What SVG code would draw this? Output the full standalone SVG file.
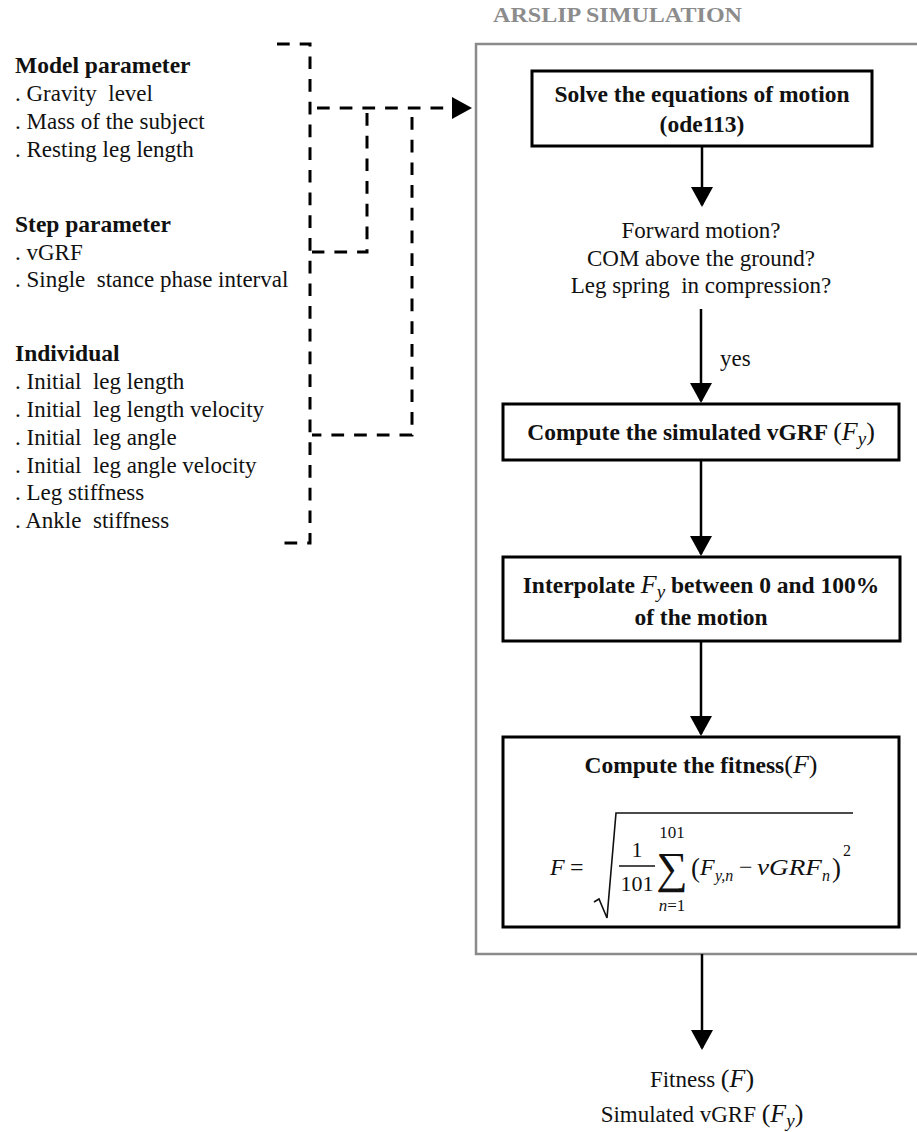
<svg xmlns="http://www.w3.org/2000/svg" width="917" height="1132" viewBox="0 0 917 1132">
<style>
.t{font-family:"Liberation Serif","Times New Roman",serif;font-size:23px;fill:#111;white-space:pre}
.b{font-weight:bold;font-size:23.5px}
.c{text-anchor:middle}
.m{font-family:"Liberation Serif","Times New Roman",serif;font-style:italic;font-weight:normal;fill:#111}
.mr{font-family:"Liberation Serif","Times New Roman",serif;font-style:normal;font-weight:normal;fill:#111}
.box{fill:#fff;stroke:#000;stroke-width:3}
.outer{fill:none;stroke:#8a8a8a;stroke-width:2.5}
.dash{fill:none;stroke:#000;stroke-width:3;stroke-dasharray:12.7 10}
.arr{fill:none;stroke:#000;stroke-width:2.5}
</style>
<defs>
<marker id="ah" viewBox="0 0 20 22" markerWidth="20" markerHeight="22" refX="18" refY="11" markerUnits="userSpaceOnUse" orient="auto">
<path d="M0,0 L20,11 L0,22 Z" fill="#000"/>
</marker>
</defs>
<rect width="917" height="1132" fill="#fff"/>

<g id="inputs">
<text class="t b" x="15" y="73">Model parameter</text>
<text class="t" x="15" y="101">. Gravity  level</text>
<text class="t" x="15" y="129">. Mass of the subject</text>
<text class="t" x="15" y="157">. Resting leg length</text>
<text class="t b" x="15" y="232">Step parameter</text>
<text class="t" x="15" y="260">. vGRF</text>
<text class="t" x="15" y="287">. Single  stance phase interval</text>
<text class="t b" x="15" y="361">Individual</text>
<text class="t" x="15" y="389">. Initial  leg length</text>
<text class="t" x="15" y="417">. Initial  leg length velocity</text>
<text class="t" x="15" y="445">. Initial  leg angle</text>
<text class="t" x="15" y="473">. Initial  leg angle velocity</text>
<text class="t" x="15" y="500">. Leg stiffness</text>
<text class="t" x="15" y="528">. Ankle  stiffness</text>
</g>

<g id="simulation">
<path class="outer" d="M925,44 H476 V954 H925"/>
<text x="493" y="22" textLength="249" lengthAdjust="spacingAndGlyphs" style="font-family:'Liberation Serif','Times New Roman',serif;font-size:20px;font-weight:bold;fill:#8c8c8c">ARSLIP SIMULATION</text>
</g>

<g id="solve">
<rect class="box" x="532" y="71" width="340" height="75"/>
<text class="t b c" x="702" y="102">Solve the equations of motion</text>
<text class="t b c" x="702" y="132">(ode113)</text>
</g>

<g id="conditions">
<text class="t c" x="701" y="238">Forward motion?</text>
<text class="t c" x="701" y="266">COM above the ground?</text>
<text class="t c" x="701" y="293">Leg spring  in compression?</text>
</g>

<g id="compute-vgrf">
<rect class="box" x="503" y="404" width="396" height="56"/>
<text class="t b c" x="701" y="440">Compute the simulated vGRF <tspan class="mr" style="font-size:26px">(</tspan><tspan class="m" style="font-size:26px">F</tspan><tspan class="m" style="font-size:19px" dy="5">y</tspan><tspan class="mr" style="font-size:26px" dy="-5">)</tspan></text>
</g>

<g id="interpolate">
<rect class="box" x="503" y="557" width="397" height="84"/>
<text class="t b c" x="701" y="593">Interpolate <tspan class="m" style="font-size:26px">F</tspan><tspan class="m" style="font-size:19px" dy="5">y</tspan><tspan dy="-5"> between 0 and 100%</tspan></text>
<text class="t b c" x="701" y="625">of the motion</text>
</g>

<g id="fitness">
<rect class="box" x="503" y="737" width="396" height="190"/>
<text class="t b c" x="701" y="773">Compute the fitness<tspan class="mr" style="font-size:26px">(</tspan><tspan class="m" style="font-size:26px">F</tspan><tspan class="mr" style="font-size:26px">)</tspan></text>
<text class="m" x="550" y="875" style="font-size:24px">F</text>
<text class="mr" x="570" y="875" style="font-size:24px">=</text>
<path d="M594,902 L599,899 L607,918 L616,813 H853" fill="none" stroke="#111" stroke-width="1.6"/>
<text class="mr" x="637" y="857" text-anchor="middle" style="font-size:22px">1</text>
<line x1="619" y1="866" x2="655" y2="866" stroke="#111" stroke-width="1.4"/>
<text class="mr" x="637" y="891" text-anchor="middle" style="font-size:22px">101</text>
<text class="mr" x="672" y="883" text-anchor="middle" style="font-size:44px">∑</text>
<text class="mr" x="672" y="838" text-anchor="middle" style="font-size:17px">101</text>
<text x="672" y="911" text-anchor="middle" style="font-size:17px"><tspan class="m">n</tspan><tspan class="mr">=1</tspan></text>
<text class="mr" x="691" y="877" style="font-size:27px">(</text>
<text class="m" x="700" y="875" style="font-size:24px">F</text>
<text class="m" x="715" y="881" style="font-size:16px">y,n</text>
<text class="mr" x="739" y="875" style="font-size:24px">−</text>
<text class="m" x="757" y="875" textLength="65" lengthAdjust="spacingAndGlyphs" style="font-size:24px">vGRF</text>
<text class="m" x="822" y="881" style="font-size:16px">n</text>
<text class="mr" x="832" y="877" style="font-size:27px">)</text>
<text class="mr" x="843" y="856" style="font-size:16px">2</text>
</g>

<g id="output">
<text class="t c" x="702" y="1087">Fitness <tspan class="mr" style="font-size:26px">(</tspan><tspan class="m" style="font-size:26px">F</tspan><tspan class="mr" style="font-size:26px">)</tspan></text>
<text class="t c" x="702" y="1122">Simulated vGRF <tspan class="mr" style="font-size:26px">(</tspan><tspan class="m" style="font-size:26px">F</tspan><tspan class="m" style="font-size:19px" dy="5">y</tspan><tspan class="mr" style="font-size:26px" dy="-5">)</tspan></text>
</g>

<g id="connectors">
<path class="dash" d="M277,44 H310 V543 H277"/>
<path class="dash" d="M317,108 H470" marker-end="url(#ah)"/>
<path class="dash" d="M367,113 V252 H312"/>
<path class="dash" d="M412,117 V435 H312"/>
<path class="arr" d="M702,146 V205" marker-end="url(#ah)"/>
<path class="arr" d="M701,309 V401" marker-end="url(#ah)"/>
<path class="arr" d="M701,460 V554" marker-end="url(#ah)"/>
<path class="arr" d="M701,641 V734" marker-end="url(#ah)"/>
<path class="arr" d="M702,954 V1048" marker-end="url(#ah)"/>
<text class="t" x="720" y="366">yes</text>
</g>
</svg>
